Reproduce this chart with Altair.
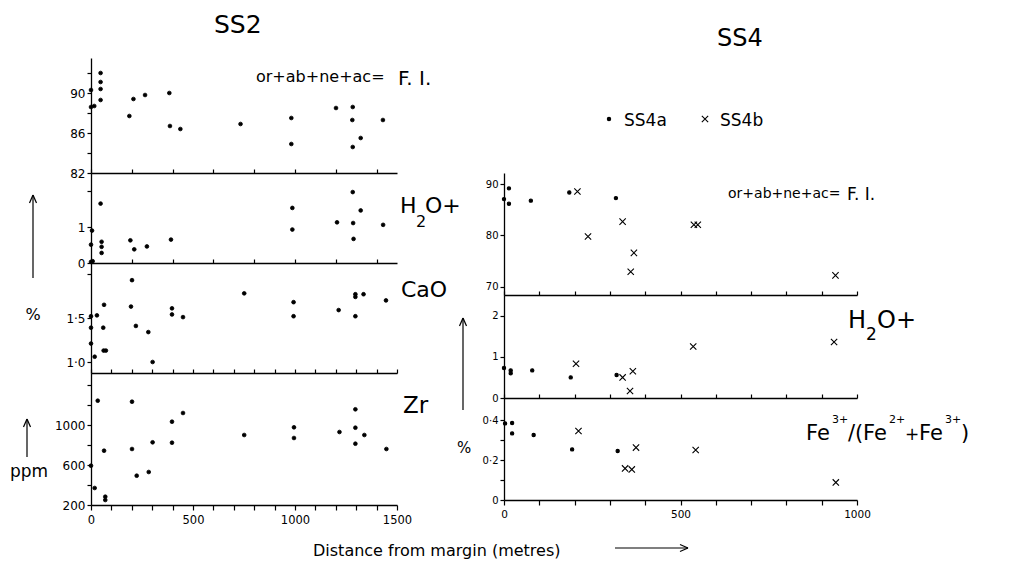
import altair as alt
import pandas as pd

FONT = "DejaVu Sans"
CROSS = "M-1,-1L1,1M-1,1L1,-1"

# ---------------- SS2 data (distance in m, value) ----------------
ss2_fi_dist = [0, 0, 16, 47, 47, 47, 47, 188, 208, 265, 384, 387, 438, 733, 982, 982, 1201, 1283, 1281, 1283, 1322, 1431]
ss2_fi_val = [90.3, 88.6, 88.7, 92.0, 91.1, 90.4, 89.3, 87.7, 89.4, 89.8, 90.0, 86.7, 86.4, 86.9, 87.5, 84.9, 88.5, 88.6, 87.3, 84.6, 85.5, 87.3]

ss2_h2o_dist = [5, 0, 0, 8, 47, 52, 52, 52, 193, 212, 274, 392, 987, 987, 1206, 1283, 1285, 1287, 1322, 1432]
ss2_h2o_val = [0.90, 0.51, 0.03, 0.05, 1.65, 0.59, 0.45, 0.28, 0.63, 0.38, 0.46, 0.65, 1.53, 0.93, 1.13, 1.97, 1.11, 0.67, 1.46, 1.06]

ss2_cao_dist = [201, 64, 196, 397, 397, 451, 751, 993, 993, 1214, 1296, 1296, 1336, 1296, 1446,
                0, 29, 0, 60, 220, 281, 0, 18, 62, 73, 302]
ss2_cao_val = [1.93, 1.65, 1.63, 1.61, 1.54, 1.51, 1.78, 1.68, 1.52, 1.59, 1.77, 1.74, 1.77, 1.52, 1.70,
               1.52, 1.53, 1.39, 1.39, 1.41, 1.34, 1.21, 1.06, 1.13, 1.13, 1.00]

ss2_zr_dist = [33, 201, 451, 397, 397, 302, 201, 64, 0, 18, 70, 70, 224, 283, 751, 995, 995, 1218, 1296, 1296, 1296, 1340, 1448]
ss2_zr_val = [1243, 1233, 1120, 1033, 823, 827, 760, 743, 593, 370, 283, 250, 493, 530, 900, 977, 870, 930, 1157, 973, 813, 900, 760]

# ---------------- SS4 data ----------------
ss4a_fi_dist = [0, 14, 14, 76, 185, 317]
ss4a_fi_val = [87.1, 89.2, 86.2, 86.8, 88.4, 87.3]
ss4b_fi_dist = [208, 238, 336, 368, 359, 538, 549, 939]
ss4b_fi_val = [88.6, 79.8, 82.7, 76.6, 72.9, 82.1, 82.1, 72.2]

ss4a_h2o_dist = [0, 19, 19, 80, 189, 319]
ss4a_h2o_val = [0.73, 0.67, 0.60, 0.67, 0.50, 0.56]
ss4b_h2o_dist = [204, 336, 365, 357, 536, 935]
ss4b_h2o_val = [0.83, 0.50, 0.65, 0.17, 1.25, 1.36]

ss4a_fe_dist = [3, 23, 23, 84, 193, 322]
ss4a_fe_val = [0.383, 0.385, 0.333, 0.325, 0.253, 0.245]
ss4b_fe_dist = [211, 374, 343, 362, 543, 940]
ss4b_fe_val = [0.345, 0.262, 0.158, 0.153, 0.250, 0.088]

groups = ["SS4a", "SS4b"]


def frame(dist, val, group=None):
    d = {"d": dist, "v": val}
    if group is not None:
        d["g"] = [group] * len(dist)
    return pd.DataFrame(d)


def frame2(da, va, db, vb):
    return pd.concat([frame(da, va, groups[0]), frame(db, vb, groups[1])], ignore_index=True)


ONE = alt.Data(values=[{"k": 0}])


def txt(s, x, y, o, size=14, align="left", baseline="alphabetic"):
    return alt.Chart(ONE).mark_text(text=s, font=FONT, fontSize=size, align=align,
                                    baseline=baseline, color="black").encode(
        x=alt.value(x - o[0]), y=alt.value(y - o[1]))


def seg(x1, y1, x2, y2, o, w=1.2, opacity=1.0):
    return alt.Chart(ONE).mark_rule(color="black", strokeWidth=w, opacity=opacity).encode(
        x=alt.value(x1 - o[0]), x2=alt.value(x2 - o[0]),
        y=alt.value(y1 - o[1]), y2=alt.value(y2 - o[1]))


def up_arrow(x, y1, y2, o):
    return [seg(x, y1, x, y2, o), seg(x, y1, x - 3.5, y1 + 8, o), seg(x, y1, x + 3.5, y1 + 8, o)]


DEC = "replace(format(datum.value, '.1f'), '.', '\u00b7')"

SHAPE_SCALE = alt.Scale(domain=groups, range=["circle", CROSS])
SIZE_SCALE = alt.Scale(domain=groups, range=[11, 40])


def yaxis(values, expr, fs):
    return alt.Axis(values=values, labelExpr=expr, tickSize=4, labelPadding=2, labelFontSize=fs,
                    labelOverlap=False, grid=False, title=None)


def top_axis(step, maxv):
    return alt.Axis(orient="top", values=list(range(0, maxv + 1, step)), labels=False,
                    tickSize=4, grid=False, title=None)


def bottom_axis(maxv, fs):
    return alt.Axis(orient="bottom", values=list(range(0, maxv + 1, 100)),
                    labelExpr="datum.value % 500 == 0 ? datum.label : ''", format="d",
                    tickSize=5, labelPadding=4, labelFontSize=fs, labelFlush=False,
                    labelOverlap=False, grid=False, title=None)


def ss4_mark(df):
    return alt.Chart(df).mark_point(filled=False, fill="black", stroke="black",
                                    strokeWidth=1.1, opacity=1)


def panel(df, xmax, ydom, yax, w, h, xax, extra_top=None, ss4=False, extras=()):
    xs = alt.Scale(domain=[0, xmax], nice=False, zero=False)
    ys = alt.Scale(domain=ydom, nice=False, zero=False)
    enc = dict(x=alt.X("d:Q", scale=xs, axis=xax), y=alt.Y("v:Q", scale=ys, axis=yax))
    if ss4:
        enc["shape"] = alt.Shape("g:N", scale=SHAPE_SCALE, legend=None)
        enc["size"] = alt.Size("g:N", scale=SIZE_SCALE, legend=None)
        m = ss4_mark(df)
    else:
        m = alt.Chart(df).mark_point(shape="circle", filled=True, size=14, fill="black",
                                     stroke="black", strokeWidth=0.8, opacity=1)
    layers = [m.encode(**enc)]
    if extra_top is not None:
        layers.append(alt.Chart(df).mark_point(opacity=0).encode(
            x=alt.X("d:Q", scale=xs, axis=extra_top)))
    layers += list(extras)
    ch = alt.layer(*layers).properties(width=w, height=h)
    if extra_top is not None:
        ch = ch.resolve_axis(x="independent")
    return ch


# panel origins (absolute page coordinates of each plot area)
OL_FI, OL_H2O, OL_CAO, OL_ZR = (91, 58), (91, 173), (91, 263), (91, 373)
OR_SP, OR_FI, OR_H2O, OR_FE = (504, 58), (504, 173), (504, 295), (504, 398)

# ---------------- SS2 column ----------------
l_fi = panel(frame(ss2_fi_dist, ss2_fi_val), 1500, [82, 93.5],
             yaxis([82, 84, 86, 88, 90, 92], "datum.value % 4 == 2 ? datum.label : ''", 12),
             306, 115, None,
             extras=[seg(0, 0, 1, 0, OL_FI, w=0.5, opacity=0.0),
                     txt("SS2", 214, 33, OL_FI, 25),
                     txt("or+ab+ne+ac=", 256, 82, OL_FI, 16),
                     txt("F. I.", 398, 85, OL_FI, 20)])

l_h2o = panel(frame(ss2_h2o_dist, ss2_h2o_val), 1500, [0, 2.5],
              yaxis([0, 1, 2], "datum.value < 2 ? datum.label : ''", 12),
              306, 90, top_axis(200, 1500),
              extras=[txt("H", 400, 213, OL_H2O, 22), txt("2", 416, 227, OL_H2O, 16),
                      txt("O+", 425, 213, OL_H2O, 22)] + up_arrow(33, 195, 278, OL_H2O))

l_cao = panel(frame(ss2_cao_dist, ss2_cao_val), 1500, [0.875, 2.125],
              yaxis([1.0, 1.5, 2.0], "datum.value < 1.9 ? " + DEC + " : ''", 12),
              306, 110, top_axis(200, 1500),
              extras=[txt("CaO", 401, 297, OL_CAO, 22),
                      txt("%", 33, 320, OL_CAO, 16, align="center")])

l_zr = panel(frame(ss2_zr_dist, ss2_zr_val), 1500, [200, 1520],
             yaxis([200, 400, 600, 800, 1000, 1200, 1400],
                   "(datum.value % 400 == 200 && datum.value <= 1000) ? format(datum.value, 'd') : ''", 12),
             306, 132, bottom_axis(1500, 11.5), extra_top=top_axis(100, 1500),
             extras=[txt("Zr", 403, 413, OL_ZR, 23),
                     txt("ppm", 29, 477, OL_ZR, 17, align="center"),
                     txt("Distance from margin (metres)", 313, 556, OL_ZR, 16),
                     seg(615, 548, 688, 548, OL_ZR), seg(688, 548, 680, 544.5, OL_ZR),
                     seg(688, 548, 680, 551.5, OL_ZR)] + up_arrow(27, 419, 457, OL_ZR))

# ---------------- SS4 column ----------------
# key for the two SS4 series, placed by a point scale without padding
key_df = pd.DataFrame({"g": groups})
key_x = alt.X("g:N", scale=alt.Scale(domain=groups, range=[609 - OR_SP[0], 705 - OR_SP[0]], padding=0),
              axis=None)
key_pts = ss4_mark(key_df).encode(
    x=key_x, y=alt.value(119 - OR_SP[1]),
    shape=alt.Shape("g:N", scale=SHAPE_SCALE, legend=None),
    size=alt.Size("g:N", scale=SIZE_SCALE, legend=None))
key_lbl = alt.Chart(key_df).mark_text(font=FONT, fontSize=17, align="left", dx=15,
                                      baseline="alphabetic", color="black").encode(
    x=key_x, y=alt.value(126 - OR_SP[1]), text="g:N")

spacer = alt.layer(txt("SS4", 717, 46, OR_SP, 24), key_pts, key_lbl).properties(width=353, height=115)

r_fi = panel(frame2(ss4a_fi_dist, ss4a_fi_val, ss4b_fi_dist, ss4b_fi_val), 1000, [68.37, 92.2],
             yaxis([70, 80, 90], "datum.label", 10), 353, 122, None, ss4=True,
             extras=[txt("or+ab+ne+ac=", 728, 198, OR_FI, 14),
                     txt("F. I.", 847, 200, OR_FI, 17)])

r_h2o = panel(frame2(ss4a_h2o_dist, ss4a_h2o_val, ss4b_h2o_dist, ss4b_h2o_val), 1000, [0, 2.5],
              yaxis([0, 1, 2], "datum.label", 10), 353, 103, top_axis(100, 1000), ss4=True,
              extras=[txt("H", 848, 328, OR_H2O, 24), txt("2", 866, 340, OR_H2O, 17),
                      txt("O+", 877, 328, OR_H2O, 24)] + up_arrow(463, 318, 410, OR_H2O))

fe_parts = [txt("Fe", 806, 440, OR_FE, 21), txt("3+", 832, 423, OR_FE, 11),
            txt("/", 848, 440, OR_FE, 21), txt("(", 855, 440, OR_FE, 21),
            txt("Fe", 863, 440, OR_FE, 21), txt("2+", 889, 423, OR_FE, 11),
            txt("+", 905, 440, OR_FE, 17), txt("Fe", 919, 440, OR_FE, 21),
            txt("3+", 945, 423, OR_FE, 11), txt(")", 961, 440, OR_FE, 21),
            txt("%", 464, 453, OR_FE, 15, align="center")]

r_fe = panel(frame2(ss4a_fe_dist, ss4a_fe_val, ss4b_fe_dist, ss4b_fe_val), 1000, [0, 0.51],
             yaxis([0, 0.1, 0.2, 0.3, 0.4],
                   "datum.value == 0 ? '0' : (round(datum.value * 10) % 2 == 0 ? " + DEC + " : '')", 10),
             353, 102, bottom_axis(1000, 10.5), extra_top=top_axis(100, 1000), ss4=True,
             extras=fe_parts)

left = alt.vconcat(l_fi, l_h2o, l_cao, l_zr, spacing=0, bounds="flush")
right = alt.vconcat(spacer, r_fi, r_h2o, r_fe, spacing=0, bounds="flush")

# the nested column is laid out flush with zero width, so the gap spans the left plot width too
chart = alt.hconcat(left, right, spacing=413, bounds="flush").properties(
    padding=0, background="white"
).configure_view(strokeWidth=0).configure_axis(
    domainColor="black", tickColor="black", labelColor="black", labelFont=FONT,
    domainWidth=1.3, tickWidth=1.2
)

chart.save("out.html", embed_options={"renderer": "svg", "actions": False})
